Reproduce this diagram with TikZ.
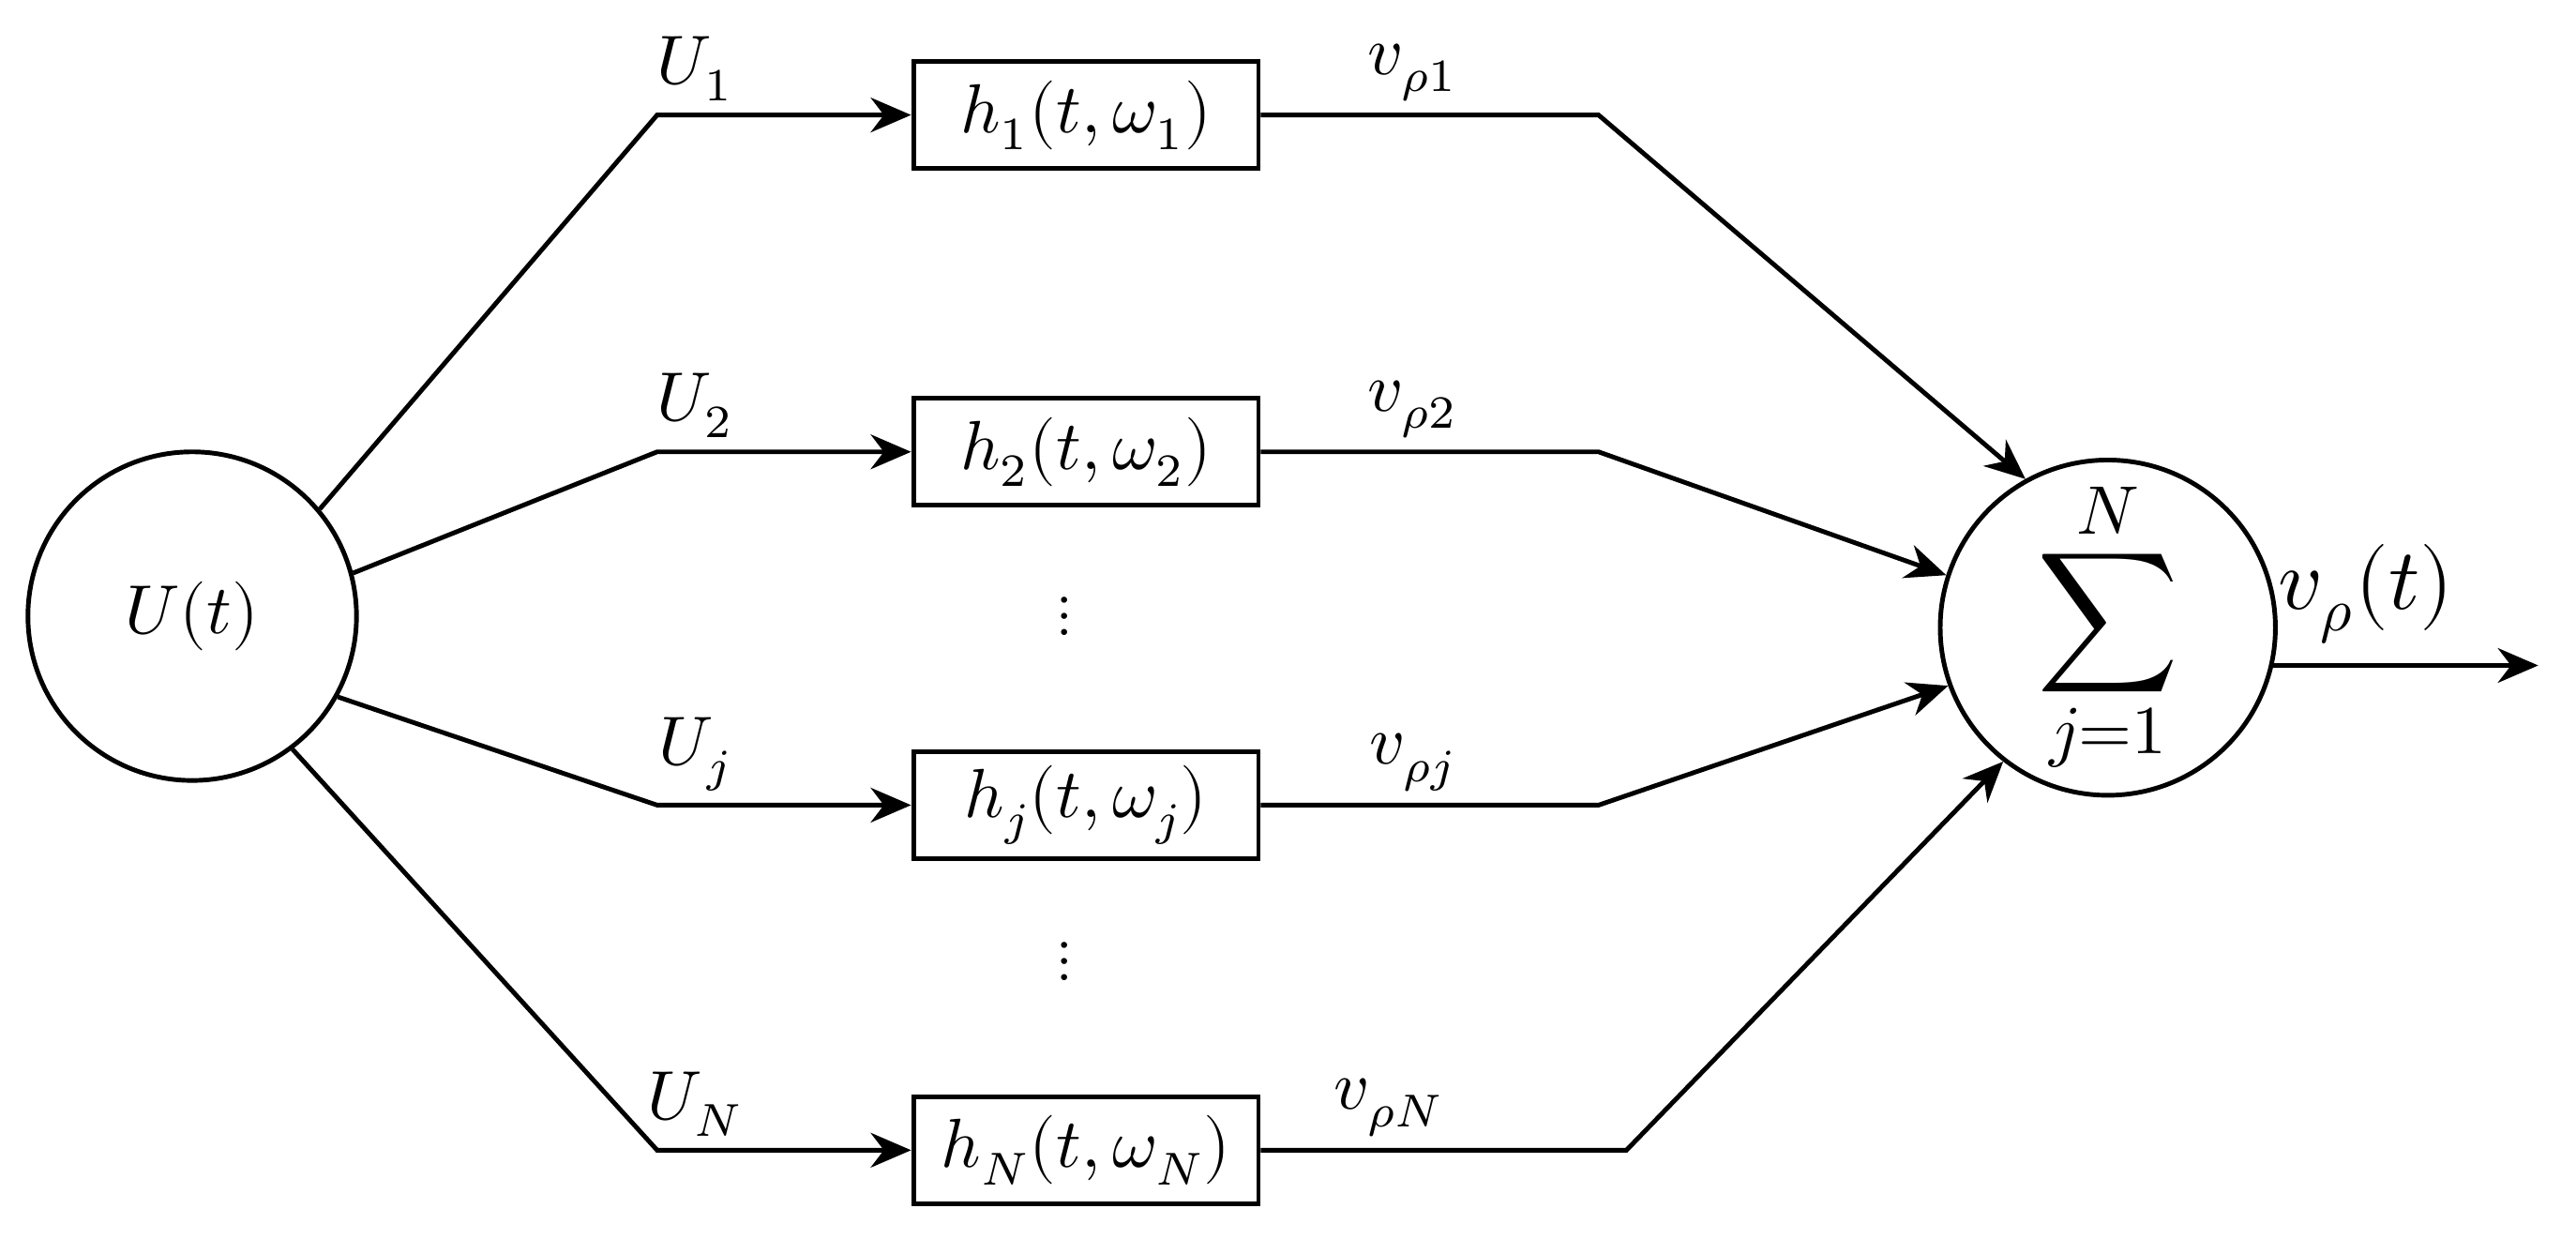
\documentclass[tikz,border=0pt]{standalone}
\usepackage{fontspec}
\setmainfont{Liberation Serif}
\usepackage{unicode-math}
\setmathfont{Latin Modern Math}
\usepackage{tikz}
\usetikzlibrary{arrows.meta}
\tikzstyle{source} = [circle, draw, line width=0.8pt, minimum size=2cm, inner sep=0pt, font=\fontsize{12}{14}\selectfont]
\tikzstyle{adder} = [circle, draw, line width=0.8pt, minimum size=1.96cm, inner sep=0pt]
\tikzstyle{block} = [rectangle, draw, line width=0.8pt, minimum width=2.1cm, minimum height=0.65cm, inner sep=0pt, font=\fontsize{12}{14}\selectfont]
\tikzstyle{line} = [draw, line width=0.8pt, -{Stealth[length=7pt,width=6pt]}]
\tikzstyle{plain} = [draw, line width=0.8pt]
\tikzstyle{lab} = [above, font=\fontsize{12}{14}\selectfont, inner sep=2pt]

\begin{document}
\begin{tikzpicture}
    \useasboundingbox (0,0) rectangle (15.68,7.63);
    % Place nodes
    \node [source] (src) at (1.17,3.88) {$U(t)$};
    \node [adder] (sum) at (12.83,3.81) {\fontsize{17}{20}\selectfont$\displaystyle\sum_{j=1}^{N}$};
    \node [block] (h1) at (6.61,6.93) {$h_1(t,\omega_1)$};
    \node [block] (h2) at (6.61,4.88) {$h_2(t,\omega_2)$};
    \node [block] (hj) at (6.61,2.73) {$h_j(t,\omega_j)$};
    \node [block] (hN) at (6.61,0.63) {$h_N(t,\omega_N)$};
    \node (dotsA) at (6.48,3.88) {$\vdots$};
    \node (dotsB) at (6.48,1.78) {$\vdots$};
    % Bend points
    \coordinate (in1) at (4.00,6.93);
    \coordinate (in2) at (4.00,4.88);
    \coordinate (inj) at (4.00,2.73);
    \coordinate (inN) at (4.00,0.63);
    \coordinate (out1) at (9.73,6.93);
    \coordinate (out2) at (9.73,4.88);
    \coordinate (outj) at (9.73,2.73);
    \coordinate (outN) at (9.90,0.63);
    \coordinate (final) at (15.45,3.58);

    % Draw edges
    \path [line] (src.40) -- (in1) -- node [lab, pos=0.15] {$U_1$} (h1);
    \path [line] (src.15) -- (in2) -- node [lab, pos=0.15] {$U_2$} (h2);
    \path [line] (src.-29) -- (inj) -- node [lab, pos=0.15] {$U_j$} (hj);
    \path [line] (src.-53) -- (inN) -- node [lab, pos=0.15] {$U_N$} (hN);
    \path [line] (h1) -- node [lab, pos=0.45] {$v_{\rho1}$} (out1) -- (sum.119);
    \path [line] (h2) -- node [lab, pos=0.45] {$v_{\rho2}$} (out2) -- (sum.162);
    \path [line] (hj) -- node [lab, pos=0.45] {$v_{\rho j}$} (outj) -- (sum.200);
    \path [line] (hN) -- node [lab, pos=0.35] {$v_{\rho N}$} (outN) -- (sum.232);
    \path [line] (sum.-13 |- final) -- node [above, font=\fontsize{15}{18}\selectfont, pos=0.35] {$v_\rho(t)$} (final);
\end{tikzpicture}
\end{document}
